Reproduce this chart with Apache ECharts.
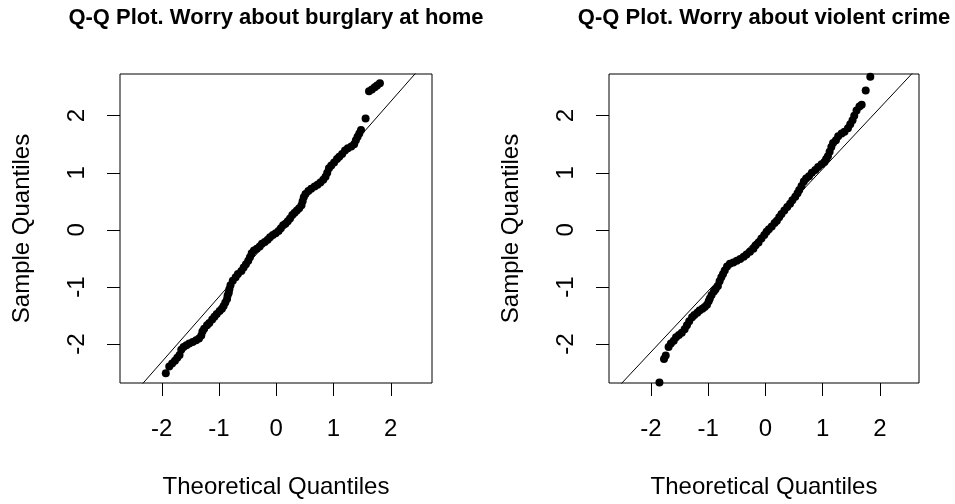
<!DOCTYPE html>
<html>
<head>
<meta charset="utf-8">
<script src="https://cdn.jsdelivr.net/npm/echarts@6/dist/echarts.min.js"></script>
<style>
html,body{margin:0;padding:0;background:#fff;}
#chart{width:955px;height:504px;}
</style>
</head>
<body>
<div id="chart"></div>
<script>
// ---- Data ----
const titles = ['Q-Q Plot. Worry about burglary at home', 'Q-Q Plot. Worry about violent crime'];
const xName = 'Theoretical Quantiles';
const yName = 'Sample Quantiles';
const tickValues = [-2, -1, 0, 1, 2];

// Left panel: theoretical (x) vs sample (y) quantiles
const burglaryX = [-1.93,-1.87,-1.82,-1.77,-1.73,-1.69,-1.66,-1.62,-1.57,-1.52,-1.46,-1.40,-1.35,-1.31,-1.29,-1.26,-1.21,-1.17,-1.12,-1.08,-1.04,-0.99,-0.95,-0.92,-0.89,-0.86,-0.85,-0.83,-0.82,-0.80,-0.76,-0.71,-0.67,-0.61,-0.57,-0.53,-0.49,-0.46,-0.43,-0.39,-0.34,-0.29,-0.25,-0.20,-0.15,-0.11,-0.06,-0.01,0.04,0.08,0.12,0.16,0.20,0.24,0.28,0.32,0.36,0.40,0.44,0.46,0.48,0.51,0.56,0.61,0.67,0.72,0.77,0.82,0.86,0.89,0.92,0.96,1.01,1.06,1.10,1.15,1.20,1.25,1.31,1.36,1.39,1.42,1.45,1.48,1.56,1.62,1.67,1.72,1.76,1.81];
const burglaryY = [-2.51,-2.39,-2.34,-2.29,-2.24,-2.19,-2.10,-2.05,-2.02,-1.99,-1.96,-1.93,-1.90,-1.85,-1.78,-1.73,-1.67,-1.63,-1.57,-1.52,-1.47,-1.42,-1.38,-1.33,-1.27,-1.21,-1.15,-1.10,-1.04,-0.97,-0.89,-0.83,-0.77,-0.72,-0.66,-0.60,-0.54,-0.48,-0.41,-0.36,-0.33,-0.29,-0.24,-0.21,-0.17,-0.13,-0.09,-0.06,-0.02,0.03,0.08,0.11,0.15,0.20,0.26,0.30,0.34,0.38,0.43,0.50,0.57,0.63,0.68,0.72,0.76,0.79,0.83,0.88,0.93,1.00,1.08,1.13,1.18,1.24,1.28,1.33,1.39,1.43,1.46,1.50,1.57,1.63,1.69,1.75,1.95,2.43,2.46,2.50,2.53,2.57];
const burglaryLineX = [-3, 3];
const burglaryLineY = [-3.45, 3.39];

// Right panel
const violentX = [-1.85,-1.77,-1.74,-1.69,-1.65,-1.60,-1.56,-1.51,-1.46,-1.41,-1.37,-1.33,-1.28,-1.24,-1.19,-1.15,-1.10,-1.06,-1.02,-0.99,-0.97,-0.94,-0.90,-0.87,-0.83,-0.80,-0.77,-0.74,-0.71,-0.67,-0.62,-0.56,-0.50,-0.44,-0.38,-0.33,-0.27,-0.21,-0.17,-0.12,-0.07,-0.02,0.02,0.06,0.11,0.16,0.20,0.24,0.28,0.33,0.38,0.43,0.47,0.52,0.56,0.59,0.63,0.67,0.71,0.76,0.81,0.87,0.92,0.98,1.03,1.06,1.09,1.12,1.15,1.18,1.23,1.27,1.33,1.38,1.44,1.48,1.52,1.55,1.59,1.64,1.68,1.75,1.83];
const violentY = [-2.67,-2.26,-2.20,-2.05,-1.99,-1.94,-1.88,-1.84,-1.80,-1.74,-1.67,-1.60,-1.53,-1.49,-1.45,-1.41,-1.38,-1.35,-1.31,-1.25,-1.20,-1.14,-1.08,-1.04,-0.98,-0.90,-0.83,-0.77,-0.71,-0.64,-0.59,-0.57,-0.54,-0.51,-0.47,-0.43,-0.38,-0.33,-0.27,-0.22,-0.15,-0.09,-0.03,0.01,0.06,0.12,0.16,0.22,0.28,0.34,0.40,0.46,0.52,0.58,0.64,0.70,0.77,0.85,0.90,0.94,1.00,1.05,1.10,1.15,1.19,1.24,1.29,1.37,1.45,1.52,1.57,1.64,1.69,1.72,1.78,1.85,1.92,2.00,2.09,2.16,2.19,2.44,2.68];
const violentLineX = [-3, 3];
const violentLineY = [-3.21, 3.21];

// Axis ranges
const xRanges = [[-2.73, 2.72], [-2.73, 2.68]];
const yRange = [-2.68, 2.73];

// ---- Build chart ----
const FONT = 'Liberation Sans, Arial, sans-serif';
const zip = (a, b) => a.map((v, i) => [v, b[i]]);

const grids = [
  {left: 120, top: 74, width: 312, height: 309},
  {left: 609, top: 74, width: 310, height: 309}
];

function makeX(i) {
  return {
    type: 'value', gridIndex: i, min: xRanges[i][0], max: xRanges[i][1],
    name: xName, nameLocation: 'middle', nameGap: 92,
    nameTextStyle: {fontFamily: FONT, fontSize: 24, color: '#000'},
    axisLine: {show: false, onZero: false},
    splitLine: {show: false},
    axisTick: {show: true, inside: false, length: 13, customValues: tickValues, lineStyle: {color: '#000', width: 1}},
    axisLabel: {customValues: tickValues, margin: 34, fontFamily: FONT, fontSize: 24, color: '#000'}
  };
}
function makeY(i) {
  return {
    type: 'value', gridIndex: i, min: yRange[0], max: yRange[1],
    name: yName, nameLocation: 'middle', nameGap: 86, nameRotate: 90,
    nameTextStyle: {fontFamily: FONT, fontSize: 24, color: '#000'},
    axisLine: {show: false, onZero: false},
    splitLine: {show: false},
    axisTick: {show: true, inside: false, length: 13, customValues: tickValues, lineStyle: {color: '#000', width: 1}},
    axisLabel: {customValues: tickValues, rotate: 90, margin: 31, fontFamily: FONT, fontSize: 24, color: '#000'}
  };
}

const option = {
  backgroundColor: '#fff',
  animation: false,
  title: titles.map((t, i) => ({
    text: t,
    left: grids[i].left + grids[i].width / 2,
    top: 7,
    padding: 0,
    textAlign: 'center',
    textStyle: {fontFamily: FONT, fontSize: 22, fontWeight: 'bold', color: '#000'}
  })),
  grid: grids.map(g => Object.assign({show: true, borderColor: '#000', borderWidth: 1, backgroundColor: 'transparent'}, g)),
  xAxis: [makeX(0), makeX(1)],
  yAxis: [makeY(0), makeY(1)],
  series: [
    {type: 'line', xAxisIndex: 0, yAxisIndex: 0, data: zip(burglaryLineX, burglaryLineY), showSymbol: false, clip: true,
     lineStyle: {color: '#000', width: 1}, silent: true},
    {type: 'scatter', xAxisIndex: 0, yAxisIndex: 0, data: zip(burglaryX, burglaryY), symbolSize: 8,
     itemStyle: {color: '#000', opacity: 1}, clip: true},
    {type: 'line', xAxisIndex: 1, yAxisIndex: 1, data: zip(violentLineX, violentLineY), showSymbol: false, clip: true,
     lineStyle: {color: '#000', width: 1}, silent: true},
    {type: 'scatter', xAxisIndex: 1, yAxisIndex: 1, data: zip(violentX, violentY), symbolSize: 8,
     itemStyle: {color: '#000', opacity: 1}, clip: true}
  ]
};

const chart = echarts.init(document.getElementById('chart'), null, {renderer: 'canvas'});
chart.setOption(option);
</script>
</body>
</html>
